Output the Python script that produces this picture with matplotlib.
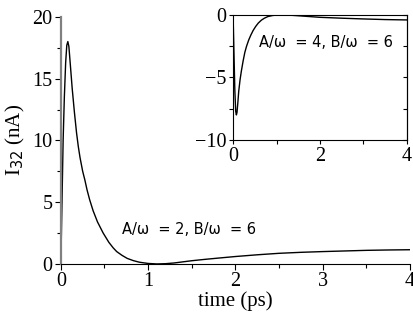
import matplotlib
matplotlib.use("Agg")
import matplotlib.pyplot as plt
from matplotlib.ticker import MultipleLocator

# main curve, A/w = 2, B/w = 6
t_main = [0.0, 0.013, 0.026, 0.04, 0.055, 0.068, 0.08, 0.092, 0.11, 0.13,
          0.155, 0.18, 0.20, 0.22, 0.25, 0.275, 0.30, 0.33, 0.37, 0.42,
          0.485, 0.55, 0.60, 0.64, 0.70, 0.76, 0.83, 0.90, 1.0, 1.1,
          1.2, 1.3, 1.4, 1.5, 1.65, 1.8, 2.0, 2.25, 2.5, 2.75,
          3.0, 3.25, 3.5, 3.75, 4.0]
i_main = [0.0, 5.0, 10.0, 13.5, 16.3, 17.7, 18.0, 17.6, 16.0, 14.2,
          12.3, 10.6, 9.5, 8.6, 7.5, 6.8, 6.0, 5.2, 4.3, 3.4,
          2.5, 1.75, 1.3, 1.0, 0.7, 0.45, 0.27, 0.14, 0.04, 0.0,
          0.02, 0.08, 0.17, 0.26, 0.37, 0.47, 0.60, 0.74, 0.86, 0.94,
          1.0, 1.05, 1.1, 1.13, 1.15]

# inset curve, A/w = 4, B/w = 6
t_ins = [0.0, 0.02, 0.04, 0.06, 0.076, 0.09, 0.11, 0.13, 0.16, 0.19,
         0.23, 0.27, 0.31, 0.36, 0.41, 0.46, 0.52, 0.58, 0.65, 0.72,
         0.80, 0.90, 1.0, 1.2, 1.4, 1.6, 1.8, 2.0, 2.5, 3.0, 3.5, 4.0]
i_ins = [0.0, -3.0, -6.0, -7.7, -8.0, -7.8, -7.0, -6.1, -5.2, -4.5,
         -3.7, -3.0, -2.5, -2.0, -1.6, -1.25, -0.92, -0.65, -0.42, -0.26,
         -0.13, -0.05, 0.0, 0.0, -0.04, -0.09, -0.14, -0.19, -0.26, -0.32,
         -0.37, -0.40]

serif = "Liberation Serif"

fig = plt.figure(figsize=(4.14, 3.18), dpi=100)
ax = fig.add_axes([0.147, 0.170, 0.843, 0.777])
ax.plot(t_main, i_main, color="black", lw=1.0)
ax.set_xlim(0, 4)
ax.set_ylim(0, 20)
ax.xaxis.set_major_locator(MultipleLocator(1))
ax.xaxis.set_minor_locator(MultipleLocator(0.5))
ax.yaxis.set_major_locator(MultipleLocator(5))
ax.yaxis.set_minor_locator(MultipleLocator(2.5))
ax.spines["top"].set_visible(False)
ax.spines["right"].set_visible(False)
ax.spines["left"].set_color("#808080")
ax.spines["left"].set_linewidth(1.6)
ax.tick_params(which="major", direction="out", length=4, width=0.8, pad=2)
ax.tick_params(which="minor", direction="out", length=3, width=0.8)
for lab in ax.get_xticklabels() + ax.get_yticklabels():
    lab.set_family(serif)
    lab.set_fontsize(14.5)
ax.set_xlabel("time (ps)", family=serif, fontsize=15, labelpad=0)
ax.set_ylabel("I$_{32}$ (nA)", family=serif, fontsize=15, labelpad=4)
ax.text(0.7, 2.75, "A/\u03c9  = 2, B/\u03c9  = 6", fontsize=10.5,
        family="DejaVu Sans", va="center")

# inset
axi = fig.add_axes([0.563, 0.560, 0.420, 0.393])
axi.plot(t_ins, i_ins, color="black", lw=1.0)
axi.set_xlim(0, 4)
axi.set_ylim(-10, 0)
axi.xaxis.set_major_locator(MultipleLocator(2))
axi.xaxis.set_minor_locator(MultipleLocator(1))
axi.yaxis.set_major_locator(MultipleLocator(5))
axi.yaxis.set_minor_locator(MultipleLocator(2.5))
axi.tick_params(which="both", direction="out", length=3, width=0.8, pad=2)
for lab in axi.get_xticklabels() + axi.get_yticklabels():
    lab.set_family(serif)
    lab.set_fontsize(14.5)
# inward ticks on the right side of the inset box
sec = axi.secondary_yaxis("right")
sec.yaxis.set_major_locator(MultipleLocator(2.5))
sec.tick_params(direction="in", length=3, width=0.8, labelright=False)
axi.text(0.6, -2.24, "A/\u03c9  = 4, B/\u03c9  = 6", fontsize=10.5,
         family="DejaVu Sans", va="center")

fig.savefig("out.png", dpi=100)
